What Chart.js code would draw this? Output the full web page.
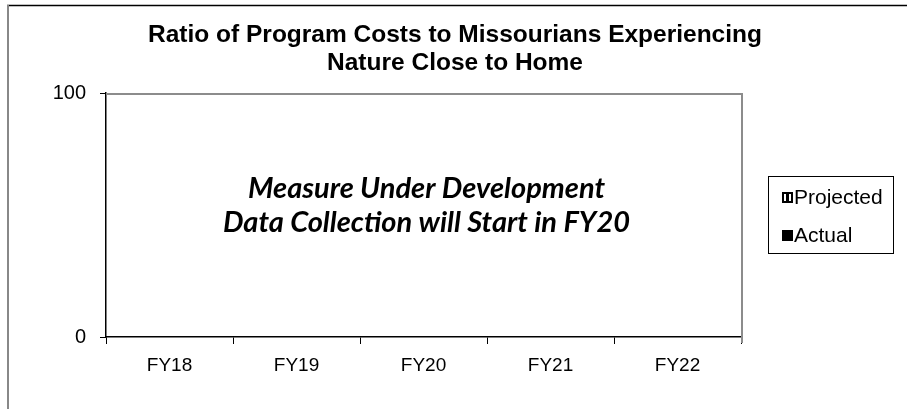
<!DOCTYPE html>
<html>
<head>
<meta charset="utf-8">
<script src="https://cdn.jsdelivr.net/npm/chart.js@4"></script>
<style>
html,body{margin:0;padding:0;background:#fff;}
#wrap{width:907px;height:409px;position:relative;}
</style>
</head>
<body>
<div id="wrap"><canvas id="c" width="907" height="409"></canvas></div>
<script>
const titleLines = ["Ratio of Program Costs to Missourians Experiencing", "Nature Close to Home"];
const categories = ["FY18", "FY19", "FY20", "FY21", "FY22"];
const projected = [null, null, null, null, null];
const actual = [null, null, null, null, null];
const yTicks = [0, 100];
const noteLines = ["Measure Under Development", "Data Collection will Start in FY20"];
const legendLabels = ["Projected", "Actual"];

const decor = {
  id: 'decor',
  beforeDraw(chart) {
    const ctx = chart.ctx;
    ctx.save();
    ctx.fillStyle = '#fff';
    ctx.fillRect(0, 0, chart.width, chart.height);
    ctx.strokeStyle = '#000';
    ctx.lineWidth = 1.5;
    ctx.beginPath(); ctx.moveTo(7, 5.5); ctx.lineTo(907, 5.5); ctx.stroke();
    ctx.strokeStyle = '#888';
    ctx.lineWidth = 2;
    ctx.beginPath(); ctx.moveTo(8, 5); ctx.lineTo(8, 409); ctx.stroke();
    ctx.restore();
  },
  afterDraw(chart) {
    const ctx = chart.ctx;
    const a = chart.chartArea;
    ctx.save();
    ctx.strokeStyle = '#8c8c8c';
    ctx.lineWidth = 2;
    ctx.beginPath();
    ctx.moveTo(a.left, a.top + 1);
    ctx.lineTo(a.right + 1, a.top + 1);
    ctx.lineTo(a.right + 1, a.bottom + 6);
    ctx.stroke();
    // title
    ctx.fillStyle = '#000';
    ctx.textAlign = 'center';
    ctx.textBaseline = 'middle';
    ctx.font = 'bold 24.5px "Liberation Sans", Arial, sans-serif';
    ctx.fillText(titleLines[0], 455, 35);
    ctx.fillText(titleLines[1], 455, 63);
    // note
    ctx.font = 'italic bold 29px Lato, "Open Sans", sans-serif';
    const cx = (a.left + a.right) / 2 + 3;
    ctx.fillText(noteLines[0], cx, 189);
    ctx.fillText(noteLines[1], cx, 223);
    // legend
    ctx.strokeStyle = '#000';
    ctx.lineWidth = 1;
    ctx.strokeRect(768.5, 176.5, 125, 77);
    ctx.font = '21px "Liberation Sans", Arial, sans-serif';
    ctx.textAlign = 'left';
    ctx.fillText(legendLabels[0], 794, 198);
    ctx.fillText(legendLabels[1], 794, 236);
    ctx.fillStyle = '#000';
    ctx.fillRect(782, 192, 11, 11);
    ctx.fillStyle = '#fff';
    ctx.fillRect(784, 194, 7, 7);
    ctx.fillStyle = '#000';
    ctx.fillRect(786, 194, 3, 7);
    ctx.fillRect(782, 230, 11, 11);
    ctx.restore();
  }
};

new Chart(document.getElementById('c'), {
  type: 'bar',
  data: {
    labels: categories,
    datasets: [
      { label: legendLabels[0], data: projected, backgroundColor: '#fff', borderColor: '#000', borderWidth: 1 },
      { label: legendLabels[1], data: actual, backgroundColor: '#000' }
    ]
  },
  options: {
    responsive: false,
    animation: false,
    devicePixelRatio: 1,
    layout: { padding: { left: 0, top: 93, right: 166, bottom: 0 } },
    plugins: { legend: { display: false }, title: { display: false }, tooltip: { enabled: false } },
    scales: {
      y: {
        min: 0, max: 100,
        afterFit(s) { s.width = 106; },
        afterBuildTicks(s) { s.ticks = yTicks.map(v => ({ value: v })); },
        ticks: { color: '#000', padding: 14, font: { size: 20, family: '"Liberation Sans", Arial, sans-serif' } },
        grid: { drawOnChartArea: false, tickLength: 6, color: '#000', tickWidth: 1 },
        border: { color: '#000', width: 1.5 }
      },
      x: {
        afterFit(s) { s.height = 72; },
        ticks: { color: '#000', padding: 10, font: { size: 19, family: '"Liberation Sans", Arial, sans-serif' } },
        grid: { drawOnChartArea: false, tickLength: 7, color: '#000', offset: true },
        border: { color: '#000', width: 1.5 }
      }
    }
  },
  plugins: [decor]
});
</script>
</body>
</html>
